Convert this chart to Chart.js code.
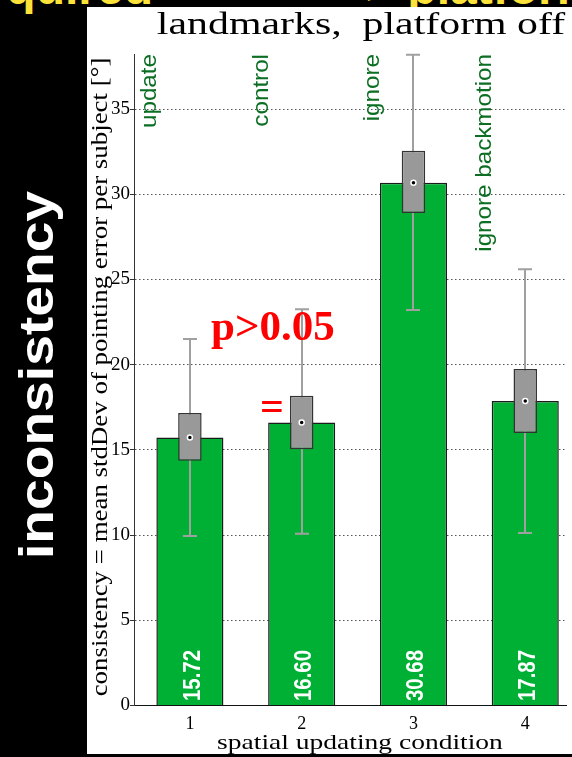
<!DOCTYPE html>
<html>
<head>
<meta charset="utf-8">
<script src="https://cdn.jsdelivr.net/npm/chart.js@4.4.0/dist/chart.umd.min.js"></script>
<style>
html, body { margin: 0; padding: 0; background: #000; width: 572px; height: 757px; overflow: hidden; position: relative; }
.yellow { position: absolute; top: -36px; font: bold 48px/48px "Liberation Sans", Arial, sans-serif; color: #fde23a; white-space: nowrap; }
#panel { position: absolute; left: 87px; top: 7px; width: 485px; height: 747px; background: #fff; }
#side { position: absolute; left: -173px; top: 351px; width: 420px; height: 48px; line-height: 48px; text-align: center;
  font: bold 48px/48px "Liberation Sans", Arial, sans-serif; color: #fff; transform: rotate(-90deg) scaleX(1.15); white-space: nowrap; }
</style>
</head>
<body>
<div class="yellow" style="right:419px">quired</div>
<div class="yellow" style="left:366px">&gt; platform</div>
<div id="side">inconsistency</div>
<div id="panel"><canvas id="chart" width="485" height="747"></canvas></div>
<script>
const categories = ['update', 'control', 'ignore', 'ignore backmotion'];
const xPos = [1, 2, 3, 4];
const means = [15.72, 16.60, 30.68, 17.87];
const boxLow = [14.36, 15.03, 28.90, 15.99];
const boxHigh = [17.16, 18.18, 32.55, 19.74];
const whiskerLow = [9.94, 10.08, 23.20, 10.12];
const whiskerHigh = [21.50, 23.25, 38.19, 25.60];
const yTicks = [0, 5, 10, 15, 20, 25, 30, 35];

const SERIF = '"Liberation Serif", "Times New Roman", serif';
const SANS = '"Liberation Sans", Arial, sans-serif';

function drawText(ctx, str, x, y, o) {
  ctx.save();
  ctx.translate(x, y);
  if (o.rot) ctx.rotate(o.rot);
  if (o.sx) ctx.scale(o.sx, 1);
  ctx.font = o.font;
  ctx.fillStyle = o.color || '#000';
  ctx.textAlign = o.align || 'left';
  ctx.textBaseline = 'alphabetic';
  ctx.fillText(str, 0, 0);
  ctx.restore();
}

// whiskers go between the green bars and the grey boxes
const whiskerPlugin = {
  id: 'whiskers',
  beforeDatasetDraw(chart, args) {
    if (args.index !== 1) return;
    const { ctx, scales: { x, y } } = chart;
    ctx.save();
    ctx.strokeStyle = '#a0a0a0';
    ctx.lineWidth = 2;
    xPos.forEach((v, i) => {
      const px = Math.round(x.getPixelForValue(v));
      const top = y.getPixelForValue(whiskerHigh[i]);
      const bot = y.getPixelForValue(whiskerLow[i]);
      ctx.beginPath();
      ctx.moveTo(px, top); ctx.lineTo(px, bot);
      ctx.moveTo(px - 7, top); ctx.lineTo(px + 7, top);
      ctx.moveTo(px - 7, bot); ctx.lineTo(px + 7, bot);
      ctx.stroke();
    });
    ctx.restore();
  }
};

const textPlugin = {
  id: 'texts',
  afterDraw(chart) {
    const { ctx, chartArea, scales: { x, y } } = chart;
    const up = -Math.PI / 2;
    drawText(ctx, 'landmarks,  platform off', 274, 27, { font: `31px ${SERIF}`, align: 'center', sx: 1.35 });
    drawText(ctx, 'spatial updating condition', 273, 742, { font: `21px ${SERIF}`, align: 'center', sx: 1.31 });
    drawText(ctx, 'consistency = mean stdDev of pointing error per subject [°]', 20, 370,
      { font: `24px ${SERIF}`, align: 'center', rot: up, sx: 1.12 });
    categories.forEach((name, i) => {
      drawText(ctx, name, x.getPixelForValue(xPos[i]) - 34, chartArea.top,
        { font: `22px ${SANS}`, color: '#0b6e23', align: 'right', rot: up, sx: 1.1 });
    });
    means.forEach((m, i) => {
      drawText(ctx, m.toFixed(2), x.getPixelForValue(xPos[i]) + 9.7, y.getPixelForValue(0) - 4.4,
        { font: `bold 24px ${SANS}`, color: '#fff', align: 'left', rot: up, sx: 0.85 });
    });
    drawText(ctx, 'p>0.05', 124, 333, { font: `bold 43px ${SERIF}`, color: '#ff0000' });
    drawText(ctx, '=', 185, 413, { font: `bold 42px ${SERIF}`, color: '#ff0000', align: 'center' });
  }
};

new Chart(document.getElementById('chart'), {
  type: 'bar',
  data: {
    datasets: [
      {
        label: 'mean',
        data: xPos.map((v, i) => ({ x: v, y: means[i] })),
        backgroundColor: '#00b034',
        borderColor: '#1b1b1b',
        borderWidth: 1.5,
        barPercentage: 0.6,
        categoryPercentage: 1,
        grouped: false,
        order: 2
      },
      {
        label: 'box',
        data: xPos.map((v, i) => ({ x: v, y: [boxLow[i], boxHigh[i]] })),
        backgroundColor: '#999999',
        borderColor: '#333333',
        borderWidth: 1.5,
        borderSkipped: false,
        barPercentage: 0.21,
        categoryPercentage: 1,
        grouped: false,
        order: 1
      },
      {
        type: 'line',
        label: 'dot',
        data: xPos.map((v, i) => ({ x: v, y: means[i] })),
        showLine: false,
        pointRadius: 2.5,
        pointBackgroundColor: '#000',
        pointBorderColor: '#fff',
        pointBorderWidth: 1.5,
        order: 0
      }
    ]
  },
  options: {
    responsive: false,
    animation: false,
    events: [],
    layout: { padding: { top: 47, left: 0, right: 0, bottom: 0 } },
    plugins: { legend: { display: false }, tooltip: { enabled: false } },
    scales: {
      x: {
        type: 'linear',
        min: 0.5,
        max: 4.369,
        offset: false,
        afterBuildTicks(scale) { scale.ticks = xPos.map(v => ({ value: v })); },
        afterFit(scale) { scale.height = 48.6; },
        grid: { display: false, offset: false },
        border: { display: true, color: '#111', width: 1 },
        ticks: { color: '#000', font: { family: SERIF, size: 18 }, padding: 0, maxRotation: 0, autoSkip: false }
      },
      y: {
        min: 0,
        max: 38.23,
        afterBuildTicks(scale) { scale.ticks = yTicks.map(v => ({ value: v })); },
        afterFit(scale) { scale.width = 47; },
        grid: { color: '#555', lineWidth: 1, drawTicks: true, tickLength: 4, tickColor: '#333' },
        border: { display: true, color: '#333', width: 1, dash: [1.5, 2.5] },
        ticks: { color: '#000', font: { family: SERIF, size: 19 }, padding: 0 }
      }
    }
  },
  plugins: [whiskerPlugin, textPlugin]
});
</script>
</body>
</html>
